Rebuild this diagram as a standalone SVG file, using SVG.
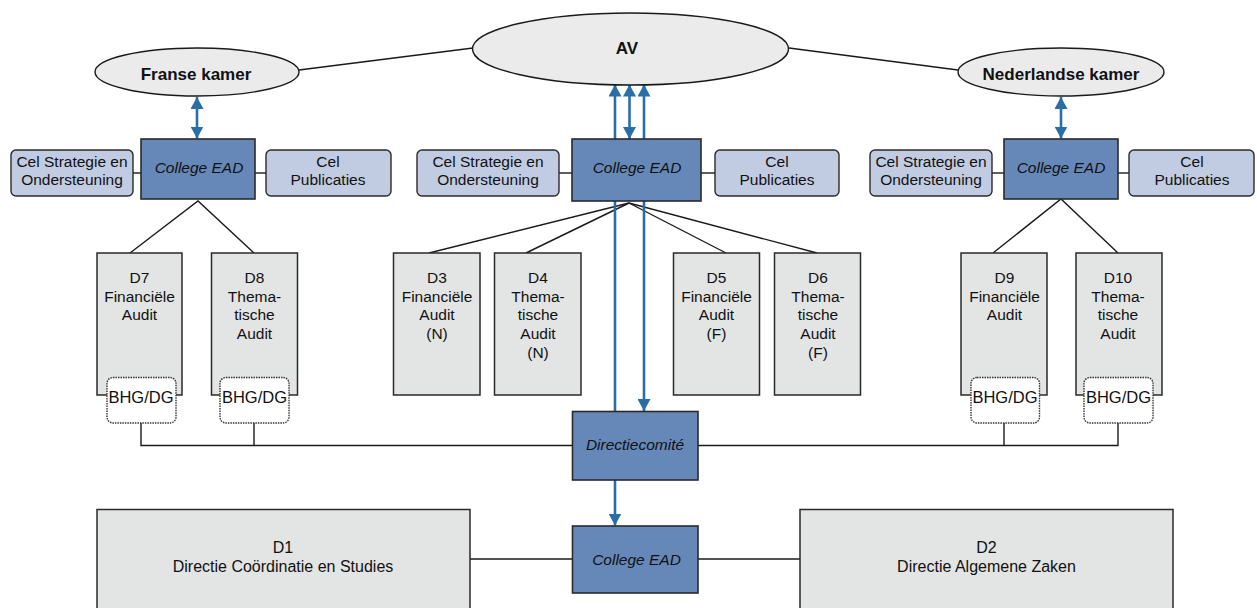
<svg xmlns="http://www.w3.org/2000/svg" width="1257" height="608" viewBox="0 0 1257 608">
<style>
text{font-family:"Liberation Sans",Arial,sans-serif;fill:#111;text-anchor:middle}
.ell{fill:#ebebeb;stroke:#1a1a1a;stroke-width:1.4}
.col{fill:#6688b8;stroke:#2a2a2a;stroke-width:1.6}
.cel{fill:#c1cbe2;stroke:#2a2a2a;stroke-width:1.4}
.dir{fill:#e3e4e4;stroke:#2a2a2a;stroke-width:1.5}
.bhg{fill:#fff;stroke:#333;stroke-width:1.4;stroke-dasharray:1.5 1}
.ln{stroke:#1a1a1a;stroke-width:1.4;fill:none}
.ar{stroke:#2a6ea6;stroke-width:2.6;fill:none}
.k{font-size:17px;font-weight:bold}
.c{font-size:15.5px}
.i{font-size:15.5px;font-style:italic}
.d{font-size:15.5px}
.b{font-size:16.5px}
.t{font-size:16px}
</style>
<defs>
<marker id="ah" viewBox="0 0 12 13" refX="12" refY="6.5" markerWidth="12" markerHeight="13" markerUnits="userSpaceOnUse" orient="auto-start-reverse">
<path d="M0,0 L12,6.5 L0,13 z" fill="#2a6ea6"/>
</marker>
</defs>
<g id="connectors">
<line class="ln" x1="299" y1="70" x2="473" y2="48"/>
<line class="ln" x1="789" y1="48" x2="958" y2="70"/>
<line class="ln" x1="133" y1="173" x2="141" y2="173"/>
<line class="ln" x1="255" y1="173" x2="266" y2="173"/>
<line class="ln" x1="559" y1="173" x2="572" y2="173"/>
<line class="ln" x1="701" y1="173" x2="715" y2="173"/>
<line class="ln" x1="992" y1="173" x2="1004" y2="173"/>
<line class="ln" x1="1118" y1="173" x2="1129" y2="173"/>
<polyline class="ln" points="130,253 198,201 254,253"/>
<polyline class="ln" points="993,253 1061,199 1118,253"/>
<line class="ln" x1="629" y1="203" x2="429" y2="253"/>
<line class="ln" x1="629" y1="203" x2="526" y2="253"/>
<line class="ln" x1="629" y1="203" x2="726" y2="253"/>
<line class="ln" x1="629" y1="203" x2="817" y2="253"/>
<polyline class="ln" points="141,423 141,445.5 1118,445.5 1118,423"/>
<line class="ln" x1="254" y1="423" x2="254" y2="445.5"/>
<line class="ln" x1="1004" y1="423" x2="1004" y2="445.5"/>
<line class="ln" x1="470" y1="559" x2="572" y2="559"/>
<line class="ln" x1="698" y1="559" x2="800" y2="559"/>
<line class="ar" x1="197" y1="97" x2="197" y2="138.5" marker-start="url(#ah)" marker-end="url(#ah)"/>
<line class="ar" x1="1061" y1="97" x2="1061" y2="138.5" marker-start="url(#ah)" marker-end="url(#ah)"/>
<line class="ar" x1="615" y1="411" x2="615" y2="84.5" marker-end="url(#ah)"/>
<line class="ar" x1="629.5" y1="84.5" x2="629.5" y2="139" marker-start="url(#ah)" marker-end="url(#ah)"/>
<line class="ar" x1="644" y1="84.5" x2="644" y2="411" marker-start="url(#ah)" marker-end="url(#ah)"/>
<line class="ar" x1="615" y1="480" x2="615" y2="525.5" marker-end="url(#ah)"/>
</g>
<g id="av"><ellipse class="ell" cx="630.5" cy="49" rx="158" ry="36"/><text class="k" x="627" y="54">AV</text></g>
<g id="franse-kamer"><ellipse class="ell" cx="197" cy="72" rx="102" ry="24"/><text class="k" x="196" y="80">Franse kamer</text></g>
<g id="nederlandse-kamer"><ellipse class="ell" cx="1061" cy="72" rx="103" ry="24"/><text class="k" x="1061" y="80">Nederlandse kamer</text></g>

<g id="cel-strategie-l"><rect class="cel" x="11" y="150" width="122" height="46" rx="5"/><text class="c" x="72" y="166.5">Cel Strategie en</text><text class="c" x="72" y="185">Ondersteuning</text></g>
<g id="college-l"><rect class="col" x="141" y="139" width="114" height="60"/><text class="i" x="199" y="172.5">College EAD</text></g>
<g id="cel-publicaties-l"><rect class="cel" x="266" y="150" width="125" height="46" rx="5"/><text class="c" x="328" y="166.5">Cel</text><text class="c" x="328" y="185">Publicaties</text></g>

<g id="cel-strategie-c"><rect class="cel" x="417" y="150" width="142" height="46" rx="5"/><text class="c" x="488" y="166.5">Cel Strategie en</text><text class="c" x="488" y="185">Ondersteuning</text></g>
<g id="college-c"><rect class="col" x="572" y="139" width="129" height="62"/><text class="i" x="637" y="172.5">College EAD</text></g>
<g id="cel-publicaties-c"><rect class="cel" x="715" y="150" width="124" height="46" rx="5"/><text class="c" x="777" y="166.5">Cel</text><text class="c" x="777" y="185">Publicaties</text></g>

<g id="cel-strategie-r"><rect class="cel" x="870" y="150" width="122" height="46" rx="5"/><text class="c" x="931" y="166.5">Cel Strategie en</text><text class="c" x="931" y="185">Ondersteuning</text></g>
<g id="college-r"><rect class="col" x="1004" y="139" width="114" height="60"/><text class="i" x="1061" y="172.5">College EAD</text></g>
<g id="cel-publicaties-r"><rect class="cel" x="1129" y="150" width="125" height="46" rx="5"/><text class="c" x="1192" y="166.5">Cel</text><text class="c" x="1192" y="185">Publicaties</text></g>

<g id="d7"><rect class="dir" x="97" y="253" width="85" height="142"/><text class="d" x="139.5" y="282.5">D7</text><text class="d" x="139.5" y="301.5">Financiële</text><text class="d" x="139.5" y="320">Audit</text>
<rect class="bhg" x="107" y="377.5" width="69" height="45.5" rx="6"/><text class="b" x="141" y="402.5">BHG/DG</text></g>
<g id="d8"><rect class="dir" x="211.5" y="253" width="86" height="142"/><text class="d" x="254.5" y="282.5">D8</text><text class="d" x="254.5" y="301.5">Thema-</text><text class="d" x="254.5" y="320">tische</text><text class="d" x="254.5" y="339">Audit</text>
<rect class="bhg" x="220" y="377.5" width="69" height="45.5" rx="6"/><text class="b" x="254.5" y="402.5">BHG/DG</text></g>

<g id="d3"><rect class="dir" x="393.5" y="253" width="86.5" height="142"/><text class="d" x="437" y="282.5">D3</text><text class="d" x="437" y="301.5">Financiële</text><text class="d" x="437" y="320">Audit</text><text class="d" x="437" y="339">(N)</text></g>
<g id="d4"><rect class="dir" x="494.5" y="253" width="86.5" height="142"/><text class="d" x="538" y="282.5">D4</text><text class="d" x="538" y="301.5">Thema-</text><text class="d" x="538" y="320">tische</text><text class="d" x="538" y="339">Audit</text><text class="d" x="538" y="357.5">(N)</text></g>
<g id="d5"><rect class="dir" x="673.5" y="253" width="86" height="142"/><text class="d" x="716.5" y="282.5">D5</text><text class="d" x="716.5" y="301.5">Financiële</text><text class="d" x="716.5" y="320">Audit</text><text class="d" x="716.5" y="339">(F)</text></g>
<g id="d6"><rect class="dir" x="774.5" y="253" width="86" height="142"/><text class="d" x="818" y="282.5">D6</text><text class="d" x="818" y="301.5">Thema-</text><text class="d" x="818" y="320">tische</text><text class="d" x="818" y="339">Audit</text><text class="d" x="818" y="357.5">(F)</text></g>

<g id="d9"><rect class="dir" x="961" y="253" width="86" height="142"/><text class="d" x="1004.5" y="282.5">D9</text><text class="d" x="1004.5" y="301.5">Financiële</text><text class="d" x="1004.5" y="320">Audit</text>
<rect class="bhg" x="971" y="377.5" width="68.5" height="45.5" rx="6"/><text class="b" x="1005" y="402.5">BHG/DG</text></g>
<g id="d10"><rect class="dir" x="1076" y="253" width="86" height="142"/><text class="d" x="1118" y="282.5">D10</text><text class="d" x="1118" y="301.5">Thema-</text><text class="d" x="1118" y="320">tische</text><text class="d" x="1118" y="339">Audit</text>
<rect class="bhg" x="1084" y="377.5" width="69" height="45.5" rx="6"/><text class="b" x="1118.5" y="402.5">BHG/DG</text></g>

<g id="directiecomite"><rect class="col" x="572.5" y="411.5" width="125.5" height="68.5"/><text class="i" x="635" y="449.5">Directiecomité</text></g>
<g id="college-bottom"><rect class="col" x="572.5" y="526" width="125.5" height="67"/><text class="i" x="636.5" y="564.5">College EAD</text></g>

<g id="d1"><rect class="dir" x="97" y="509.5" width="373" height="120"/><text class="t" x="283" y="553">D1</text><text class="t" x="283" y="572">Directie Coördinatie en Studies</text></g>
<g id="d2"><rect class="dir" x="800" y="509.5" width="373" height="120"/><text class="t" x="986.5" y="553">D2</text><text class="t" x="986.5" y="572">Directie Algemene Zaken</text></g>
</svg>
